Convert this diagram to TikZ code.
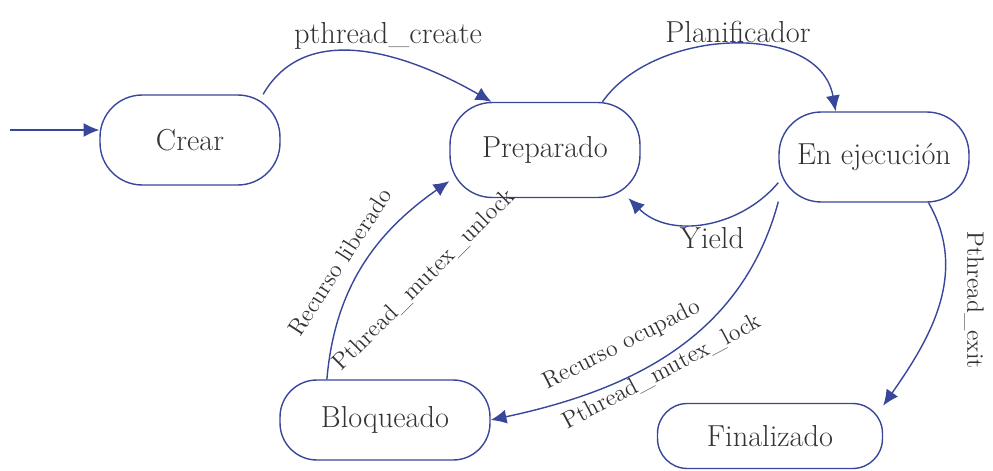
\documentclass[tikz,border=0pt]{standalone}
\usepackage{tikz}
\usepackage{xcolor}
\usetikzlibrary{arrows.meta,positioning}

\definecolor{pen}{HTML}{38479A}
\definecolor{ink}{HTML}{333333}

\tikzset{
  state/.style={rectangle,rounded corners=24pt,draw=pen,thick,text=ink,font=\LARGE,minimum height=1.8cm},
  trans/.style={->,pen,thick,>={Latex[length=9pt,width=8pt]}},
  lbl/.style={text=ink,font=\LARGE},
  rlbl/.style={text=ink,font=\fontsize{13.5}{16}\selectfont,inner sep=1pt}
}

\begin{document}
\begin{tikzpicture}[x=0.02cm,y=-0.02cm]
    \useasboundingbox (0,0) rectangle (993,470);
    % Nodes
    \node[state,minimum width=3.6cm] (crear) at (190,140) {Crear};
    \node[state,minimum width=3.8cm,minimum height=1.9cm] (prep) at (545,150) {Preparado};
    \node[state,minimum width=3.8cm] (ejec) at (874,157) {En ejecución};
    \node[state,minimum width=4.2cm,minimum height=1.6cm,rounded corners=21pt] (bloq) at (385,420) {Bloqueado};
    \node[state,minimum width=4.5cm,minimum height=1.3cm,rounded corners=17pt] (fin) at (770,436) {Finalizado};
    \coordinate (start) at (10,130);

    % Arrows
    \draw[trans] (start) -- (crear.west |- start);
    \draw[trans] (crear.32) to[out=60,in=150] (prep.138);
    \draw[trans] (prep.40) to[out=55,in=100] (ejec.130);
    \draw[trans] (ejec.195) to[out=230,in=-45] (prep.-30);
    \draw[trans] (ejec.205) to[out=255,in=12] (bloq.east);
    \draw[trans] (bloq.145) to[out=85,in=215] (prep.198);
    \draw[trans] (ejec.-40) to[out=-60,in=55] (fin.15);

    % Labels
    \node[lbl] (lcreate) at (388,36) {pthread\_create};
    \node[lbl] (lplan) at (738,32) {Planificador};
    \node[lbl] (lyield) at (712,238) {Yield};
    \node[rlbl,rotate=57] (llib) at (340,262) {Recurso liberado};
    \node[rlbl,rotate=45] (lunlock) at (424,280) {Pthread\_mutex\_unlock};
    \node[rlbl,rotate=27] (locup) at (622,345) {Recurso ocupado};
    \node[rlbl,rotate=28] (llock) at (662,372) {Pthread\_mutex\_lock};
    \node[rlbl,rotate=-90] (lexit) at (974,300) {Pthread\_exit};
\end{tikzpicture}
\end{document}
